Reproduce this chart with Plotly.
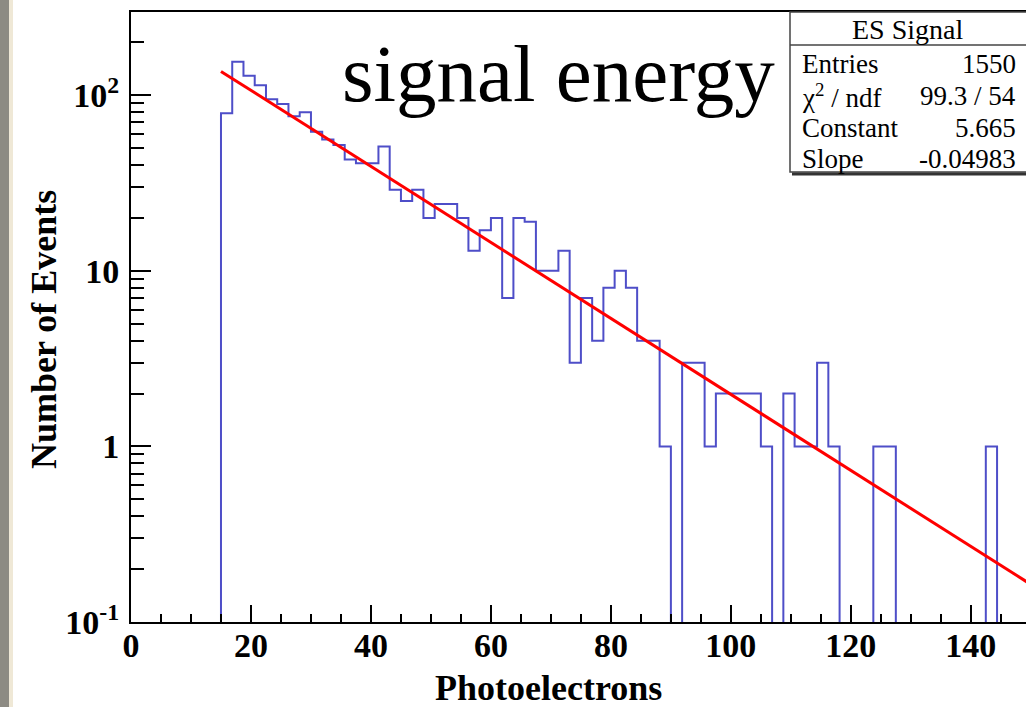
import numpy as np
import plotly.graph_objects as go

# ---------------- data ----------------
x_min = 0.0
bin_width = 1.875
counts = [0, 0, 0, 0, 0, 0, 0, 0,
          79, 155, 129, 114, 95, 89, 76, 80, 62, 56,
          52, 43, 41, 41, 51, 29, 25, 29, 20, 24,
          24, 20, 13, 17, 20, 7, 20, 19, 10, 10,
          13, 3, 7, 4, 8, 10, 8, 4, 4, 1,
          0, 3, 3, 1, 2, 2, 2, 2, 1, 0,
          2, 1, 1, 3, 1, 0, 0, 0, 1, 1,
          0, 0, 0, 0, 0, 0, 0, 0, 1, 0,
          0, 0]
fit_const = 5.665
fit_slope = -0.04983
fit_range = [15.0, 150.0]

x_tick_step = 20
y_tickvals = [0.1, 1, 10, 100]
y_ticktext = ["10<sup>-1</sup>", "1", "10", "10<sup>2</sup>"]

stats_title = "ES Signal"
stats_labels = ["Entries", "χ<sup>2</sup> / ndf", "Constant", "Slope"]
stats_values = ["1550", "99.3 / 54", "5.665", "-0.04983"]

title_text = "signal energy"
x_title = "Photoelectrons"
y_title = "Number of Events"

# ---------------- layout geometry (pixels) ----------------
W, H = 1026, 707
L, R, T, B = 131, 1026, 12, 622
x_range = [0, 149.2]
y_log_range = [-1, 2.474]


def px(x):
    return (x - L) / (R - L)


def py(y):
    return (B - y) / (B - T)


# histogram outline (zero bins pushed below the visible range)
floor = 10 ** (y_log_range[0] - 2)
edges = [x_min + i * bin_width for i in range(len(counts) + 1)]
ys = [c if c > 0 else floor for c in counts]
ys = ys + [ys[-1]]

fit_x = np.linspace(fit_range[0], fit_range[1], 200)
fit_y = np.exp(fit_const + fit_slope * fit_x)

fig = go.Figure()
fig.add_trace(go.Scatter(x=edges, y=ys, mode="lines", line_shape="hv",
                         line=dict(color="rgb(78,78,200)", width=2),
                         hoverinfo="skip", showlegend=False))
fig.add_trace(go.Scatter(x=fit_x, y=fit_y, mode="lines",
                         line=dict(color="rgb(255,0,0)", width=3),
                         hoverinfo="skip", showlegend=False))

serif = "Liberation Serif, Times New Roman, serif"

fig.update_layout(
    width=W, height=H, autosize=False,
    margin=dict(l=L, r=W - R, t=T, b=H - B, pad=0),
    paper_bgcolor="white", plot_bgcolor="white",
    showlegend=False,
    xaxis=dict(range=x_range, dtick=x_tick_step, tick0=0,
               showgrid=False, zeroline=False,
               showline=True, linecolor="black", linewidth=2, mirror=True,
               ticks="inside", ticklen=17, tickwidth=1.5, tickcolor="black",
               minor=dict(dtick=5, ticks="inside", ticklen=8, tickwidth=1.5,
                          tickcolor="black", showgrid=False),
               tickfont=dict(family=serif, size=34, color="black", weight="bold"),
               ticklabelstandoff=-8),
    yaxis=dict(type="log", range=y_log_range,
               tickvals=y_tickvals, ticktext=y_ticktext,
               showgrid=False, zeroline=False,
               showline=True, linecolor="black", linewidth=2, mirror=False,
               ticks="inside", ticklen=20, tickwidth=1.5, tickcolor="black",
               minor=dict(dtick="D1", ticks="inside", ticklen=13, tickwidth=1.5,
                          tickcolor="black", showgrid=False),
               tickfont=dict(family=serif, size=34, color="black", weight="bold"),
               ticklabelstandoff=3),
)

shapes = []
# left textured paper edge
shapes.append(dict(type="rect", xref="paper", yref="paper",
                   x0=px(0), x1=px(9), y0=py(H), y1=py(0),
                   fillcolor="#8d8b83", line=dict(width=0), layer="below"))
shapes.append(dict(type="rect", xref="paper", yref="paper",
                   x0=px(9), x1=px(13), y0=py(H), y1=py(0),
                   fillcolor="#efe8d6", line=dict(width=0), layer="below"))
# stats box
shapes.append(dict(type="rect", xref="paper", yref="paper",
                   x0=px(790), x1=px(1030), y0=py(172), y1=py(12),
                   fillcolor="white", line=dict(color="#444", width=1.5), layer="above"))
shapes.append(dict(type="line", xref="paper", yref="paper",
                   x0=px(790), x1=px(1030), y0=py(45), y1=py(45),
                   line=dict(color="#444", width=1.5)))
shapes.append(dict(type="line", xref="paper", yref="paper",
                   x0=px(792), x1=px(1030), y0=py(174), y1=py(174),
                   line=dict(color="#333", width=3)))
fig.update_layout(shapes=shapes)

ann = []
ann.append(dict(xref="paper", yref="paper", x=px(340), y=py(74),
                xanchor="left", yanchor="middle", showarrow=False,
                text=title_text, font=dict(family=serif, size=81, color="black")))
ann.append(dict(xref="paper", yref="paper", x=px(548), y=py(688),
                xanchor="center", yanchor="middle", showarrow=False,
                text=x_title, font=dict(family=serif, size=36, color="black", weight="bold")))
ann.append(dict(xref="paper", yref="paper", x=px(44), y=py(330),
                xanchor="center", yanchor="middle", showarrow=False, textangle=-90,
                text=y_title, font=dict(family=serif, size=36, color="black", weight="bold")))
ann.append(dict(xref="paper", yref="paper", x=px(907), y=py(30),
                xanchor="center", yanchor="middle", showarrow=False,
                text=stats_title, font=dict(family=serif, size=28, color="black")))
row_y = [64, 96, 128, 159]
for lab, val, yy in zip(stats_labels, stats_values, row_y):
    ann.append(dict(xref="paper", yref="paper", x=px(800), y=py(yy),
                    xanchor="left", yanchor="middle", showarrow=False,
                    text=lab, font=dict(family=serif, size=27, color="black")))
    ann.append(dict(xref="paper", yref="paper", x=px(1018), y=py(yy),
                    xanchor="right", yanchor="middle", showarrow=False,
                    text=val, font=dict(family=serif, size=27, color="black")))
fig.update_layout(annotations=ann)

fig.write_html("out.html")
